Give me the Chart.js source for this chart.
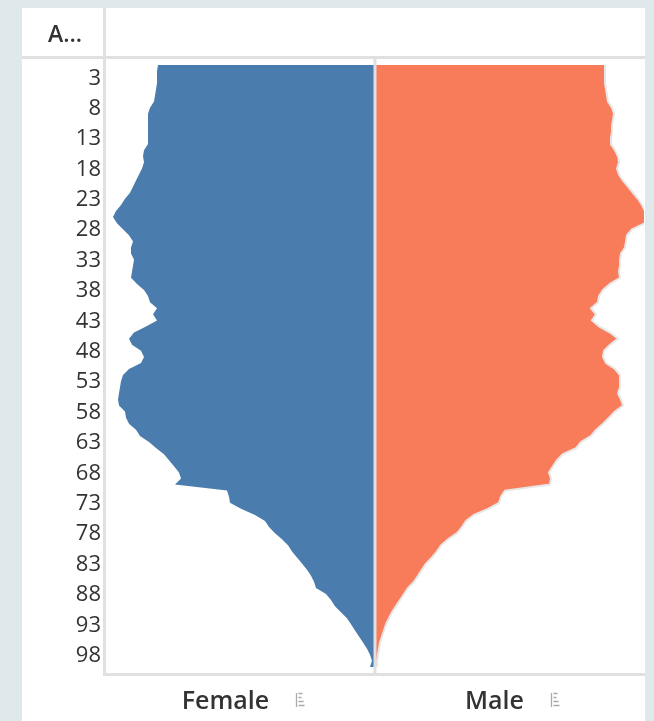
<!DOCTYPE html>
<html>
<head>
<meta charset="utf-8">
<script src="https://cdn.jsdelivr.net/npm/chart.js@4.4.1/dist/chart.umd.min.js"></script>
<style>
  html, body { margin: 0; padding: 0; background: #dfe9ec; }
  #wrap { width: 654px; height: 721px; }
</style>
</head>
<body>
<div id="wrap"><canvas id="pyramid" width="654" height="721"></canvas></div>
<script>
// age rows, one per year
const ages = [1, 2, 3, 4, 5, 6, 7, 8, 9, 10, 11, 12, 13, 14, 15, 16, 17, 18, 19, 20,
  21, 22, 23, 24, 25, 26, 27, 28, 29, 30, 31, 32, 33, 34, 35, 36, 37, 38, 39, 40,
  41, 42, 43, 44, 45, 46, 47, 48, 49, 50, 51, 52, 53, 54, 55, 56, 57, 58, 59, 60,
  61, 62, 63, 64, 65, 66, 67, 68, 69, 70, 71, 72, 73, 74, 75, 76, 77, 78, 79, 80,
  81, 82, 83, 84, 85, 86, 87, 88, 89, 90, 91, 92, 93, 94, 95, 96, 97, 98, 99, 100];

// population per age (same units for both)
const female = [217, 218, 218, 218, 219, 220, 221, 225, 227, 227, 227, 227, 227, 227, 231, 232, 231, 233, 236, 239,
  242, 245, 250, 254, 259, 262, 258, 252, 246, 242, 244, 244, 241, 242, 243, 244, 238, 231, 227, 225,
  218, 222, 218, 229, 241, 246, 243, 234, 231, 234, 246, 252, 254, 255, 256, 257, 256, 250, 249, 246,
  239, 235, 226, 219, 211, 206, 201, 196, 194, 200, 148, 146, 145, 134, 120, 110, 106, 100, 93, 87,
  83, 78, 73, 68, 64, 61, 59, 49, 44, 40, 34, 28, 24, 20, 16, 12, 8, 5, 3, 5];

const male = [230, 230, 230, 230, 231, 232, 233, 237, 239, 238, 237, 237, 236, 236, 240, 243, 244, 242, 244, 248,
  253, 258, 263, 267, 270, 272, 270, 257, 252, 251, 250, 246, 245, 245, 244, 245, 235, 228, 224, 223,
  216, 221, 217, 224, 235, 243, 235, 229, 228, 231, 240, 245, 245, 245, 243, 246, 248, 240, 234, 228,
  221, 216, 206, 201, 188, 182, 178, 174, 176, 175, 130, 126, 124, 113, 99, 91, 87, 82, 73, 66,
  62, 57, 51, 47, 43, 39, 33, 29, 25, 21, 17, 14, 11, 9, 7, 5, 4, 3, 2, 2];

const ageTicks = [3, 8, 13, 18, 23, 28, 33, 38, 43, 48, 53, 58, 63, 68, 73, 78, 83, 88, 93, 98];
const sexes = ['Female', 'Male'];
const rowHeader = 'A\u2026';

const halfMax = 269;
const lineGrey = '#e0e0e0';
const textDark = '#333333';

const framePlugin = {
  id: 'frame',
  beforeDraw(chart) {
    const ctx = chart.ctx;
    ctx.save();
    ctx.fillStyle = '#dfe9ec';
    ctx.fillRect(0, 0, chart.width, chart.height);
    ctx.fillStyle = '#ffffff';
    ctx.fillRect(22, 8, chart.width - 31, chart.height - 8);
    ctx.restore();
  },
  afterDatasetsDraw(chart) {
    const { ctx, chartArea, scales } = chart;
    const x0 = scales.x.getPixelForValue(0);
    ctx.save();
    ctx.strokeStyle = lineGrey;
    ctx.lineWidth = 3;
    ctx.beginPath();
    ctx.moveTo(x0, chartArea.top);
    ctx.lineTo(x0, chartArea.bottom);
    ctx.stroke();
    ctx.restore();
  },
  afterDraw(chart) {
    const { ctx, chartArea, scales } = chart;
    const right = chart.width - 9;
    ctx.save();
    ctx.strokeStyle = lineGrey;
    ctx.lineWidth = 3;
    ctx.beginPath();
    // header underline
    ctx.moveTo(22, chartArea.top - 1.5);
    ctx.lineTo(right, chartArea.top - 1.5);
    // row header divider
    ctx.moveTo(chartArea.left - 1.5, 8);
    ctx.lineTo(chartArea.left - 1.5, chartArea.bottom + 3);
    // bottom rule
    ctx.moveTo(chartArea.left - 3, chartArea.bottom + 1.5);
    ctx.lineTo(right, chartArea.bottom + 1.5);
    ctx.stroke();

    // row header text
    ctx.fillStyle = textDark;
    ctx.font = '600 23px "Open Sans"';
    ctx.textAlign = 'center';
    ctx.textBaseline = 'middle';
    ctx.fillText(rowHeader, (22 + chartArea.left) / 2 + 1, (8 + chartArea.top) / 2 + 2);

    // small sort icons after each column label
    const xs = scales.x;
    ctx.font = xs.options.ticks.font.weight + ' ' + xs.options.ticks.font.size + 'px "Open Sans"';
    ctx.strokeStyle = '#aaaaaa';
    ctx.lineWidth = 1.3;
    xs.ticks.forEach((t, i) => {
      const label = sexes[i];
      const w = ctx.measureText(label).width;
      const cx = xs.getPixelForValue(t.value) + xs.options.ticks.labelOffset;
      const ix = Math.round(cx + w / 2 + 27) + 0.5;
      const iy = chartArea.bottom + 27;
      ctx.beginPath();
      ctx.moveTo(ix, iy - 7);
      ctx.lineTo(ix, iy + 7);
      ctx.moveTo(ix + 2, iy - 6.5); ctx.lineTo(ix + 6, iy - 6.5);
      ctx.moveTo(ix + 2, iy - 2.5); ctx.lineTo(ix + 5, iy - 2.5);
      ctx.moveTo(ix + 2, iy + 1.5); ctx.lineTo(ix + 7, iy + 1.5);
      ctx.moveTo(ix + 2, iy + 5.5); ctx.lineTo(ix + 8, iy + 5.5);
      ctx.stroke();
    });
    ctx.restore();
  }
};

new Chart(document.getElementById('pyramid'), {
  type: 'line',
  data: {
    datasets: [
      {
        label: sexes[0],
        data: ages.map((a, i) => ({ x: -female[i], y: a })),
        backgroundColor: '#4a7cad',
        borderColor: 'rgba(0,0,0,0)',
        borderWidth: 0,
        fill: 'origin',
        pointRadius: 0,
        tension: 0
      },
      {
        label: sexes[1],
        data: ages.map((a, i) => ({ x: male[i], y: a })),
        backgroundColor: '#f87b5a',
        borderColor: '#e6e6e6',
        borderWidth: 2,
        fill: 'origin',
        pointRadius: 0,
        tension: 0
      }
    ]
  },
  options: {
    responsive: false,
    animation: false,
    indexAxis: 'y',
    layout: { padding: { left: 22, right: 10, top: 59, bottom: 0 } },
    plugins: {
      legend: { display: false },
      tooltip: { enabled: false }
    },
    scales: {
      y: {
        type: 'linear',
        reverse: true,
        min: 0,
        max: 101,
        afterBuildTicks: (scale) => { scale.ticks = ageTicks.map(v => ({ value: v })); },
        afterFit: (scale) => { scale.width = 84; },
        grid: { display: false, drawTicks: false },
        border: { display: false },
        ticks: {
          autoSkip: false,
          padding: 5,
          labelOffset: 1,
          color: textDark,
          font: { family: 'Open Sans', size: 22 }
        }
      },
      x: {
        type: 'linear',
        min: -halfMax,
        max: halfMax,
        afterBuildTicks: (scale) => { scale.ticks = [{ value: -halfMax / 2 }, { value: halfMax / 2 }]; },
        afterFit: (scale) => { scale.height = 48; },
        grid: { display: false, drawTicks: false },
        border: { display: false },
        ticks: {
          autoSkip: false,
          maxRotation: 0,
          padding: 14,
          labelOffset: -15,
          color: textDark,
          font: { family: 'Open Sans', size: 25, weight: '600' },
          callback: (v) => (v < 0 ? sexes[0] : sexes[1])
        }
      }
    }
  },
  plugins: [framePlugin]
});
</script>
</body>
</html>
